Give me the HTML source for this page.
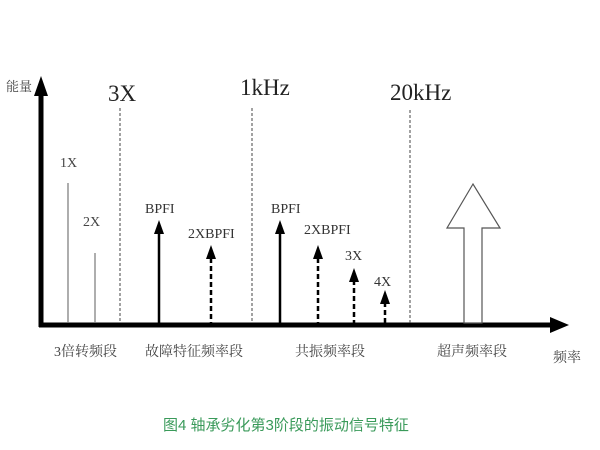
<!DOCTYPE html>
<html><head><meta charset="utf-8"><style>
html,body{margin:0;padding:0;background:#fff;}
svg{display:block}
</style></head><body>
<svg width="600" height="450" viewBox="0 0 600 450" xmlns="http://www.w3.org/2000/svg">
<g font-family="Liberation Serif, Noto Serif CJK SC, serif" fill="#222">
<line x1="41" y1="90" x2="41" y2="327" stroke="#000" stroke-width="5"/>
<polygon points="41,76 34,96 48,96" fill="#000"/>
<line x1="39" y1="325" x2="556" y2="325" stroke="#000" stroke-width="5"/>
<polygon points="569,325 550,317 550,333" fill="#000"/>
<g stroke="#444" stroke-width="1" stroke-dasharray="3,2">
<line x1="120" y1="108" x2="120" y2="323"/>
<line x1="252" y1="108" x2="252" y2="323"/>
<line x1="410" y1="110" x2="410" y2="323"/>
</g>
<line x1="68" y1="183" x2="68" y2="323" stroke="#777" stroke-width="1.2"/>
<line x1="95" y1="253" x2="95" y2="323" stroke="#777" stroke-width="1.2"/>
<line x1="159" y1="232" x2="159" y2="323" stroke="#000" stroke-width="2.5"/>
<polygon points="159,220 154,234 164,234" fill="#000"/>
<line x1="280" y1="232" x2="280" y2="323" stroke="#000" stroke-width="2.5"/>
<polygon points="280,220 275,234 285,234" fill="#000"/>
<g stroke="#000" stroke-width="2.5" stroke-dasharray="5,3">
<line x1="211" y1="258" x2="211" y2="323"/>
<line x1="318" y1="258" x2="318" y2="323"/>
<line x1="354" y1="280" x2="354" y2="323"/>
<line x1="385" y1="302" x2="385" y2="323"/>
</g>
<polygon points="211,245 206,259 216,259" fill="#000"/>
<polygon points="318,245 313,259 323,259" fill="#000"/>
<polygon points="354,268 349,282 359,282" fill="#000"/>
<polygon points="385,290 380,304 390,304" fill="#000"/>
<polygon points="473,184 447,228 464,228 464,323 482,323 482,228 500,228" fill="#fff" stroke="#555" stroke-width="1.2"/>
<text x="6" y="91" font-size="13" fill="#444">能量</text>
<text x="108" y="101" font-size="23">3X</text>
<text x="240" y="95" font-size="23">1kHz</text>
<text x="390" y="100" font-size="23">20kHz</text>
<text x="60" y="167" font-size="14" fill="#444">1X</text>
<text x="83" y="226" font-size="14" fill="#444">2X</text>
<text x="145" y="213" font-size="14" fill="#333">BPFI</text>
<text x="188" y="238" font-size="14" fill="#333">2XBPFI</text>
<text x="271" y="213" font-size="14" fill="#333">BPFI</text>
<text x="304" y="234" font-size="14" fill="#333">2XBPFI</text>
<text x="345" y="260" font-size="14" fill="#333">3X</text>
<text x="374" y="286" font-size="14" fill="#333">4X</text>
<text x="54" y="356" font-size="14" fill="#444">3倍转频段</text>
<text x="145" y="356" font-size="14" fill="#444">故障特征频率段</text>
<text x="295" y="356" font-size="14" fill="#444">共振频率段</text>
<text x="437" y="356" font-size="14" fill="#444">超声频率段</text>
<text x="553" y="362" font-size="14" fill="#444">频率</text>
</g>
<text x="163" y="430" font-size="15" fill="#3a9a5a" font-family="Liberation Sans, Noto Sans CJK SC, sans-serif">图4 轴承劣化第3阶段的振动信号特征</text>
</svg>
</body></html>
